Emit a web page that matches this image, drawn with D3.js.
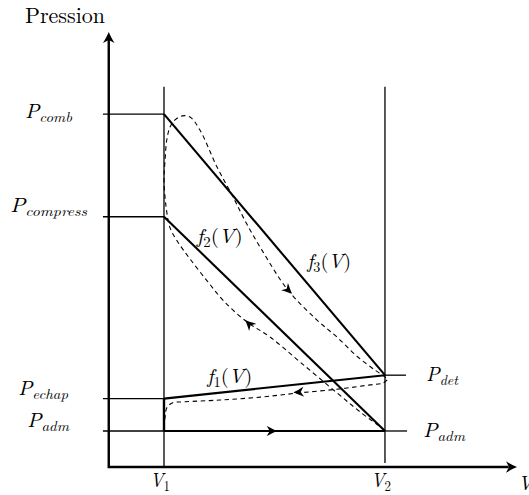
<!DOCTYPE html>
<html>
<head>
<meta charset="utf-8">
<script src="https://cdn.jsdelivr.net/npm/d3@7"></script>
<style>
html,body{margin:0;padding:0;background:#fff;}
svg{display:block;}
</style>
</head>
<body>
<svg id="chart" width="529" height="495"></svg>
<script>
// ---------- data ----------
const volumeNames = ["1", "2"];
const volumeValues = [1, 5];
const pressureNames = ["comb", "compress", "echap", "adm", "det"];
const pressureValues = [9.8, 6.95, 1.9, 1.0, 2.55];

// straight model curves f1, f2, f3
const modelNames = ["1", "2", "3"];
const modelStartV = [1, 1, 1];
const modelStartP = [1.9, 6.95, 9.8];
const modelEndV = [5, 5, 5];
const modelEndP = [2.55, 1.0, 2.55];

// real cycle (dashed): compression -> combustion -> expansion
const cycleMainV = [5.00,4.96,4.55,4.13,3.46,2.92,2.50,2.10,1.78,1.47,1.25,1.11,1.04,1.00,1.02,1.05,1.11,1.20,1.33,1.47,1.65,1.96,2.25,2.47,2.77,3.24,3.77,4.13,4.49,4.82,5.00,5.04];
const cycleMainP = [1.00,1.06,1.53,2.06,2.92,3.61,4.03,4.58,5.17,5.78,6.25,6.64,7.20,7.97,8.53,9.08,9.44,9.64,9.75,9.72,9.36,8.33,7.50,6.83,6.03,4.92,4.08,3.61,3.08,2.69,2.50,2.42];
// exhaust
const cycleExhV = [5.04,4.96,4.73,4.19,3.46,2.74,2.01,1.38,1.15,1.05,1.02,1.00];
const cycleExhP = [2.42,2.33,2.28,2.17,2.06,1.94,1.86,1.81,1.78,1.64,1.39,1.00];
// intake
const cycleIntV = [1.00, 5.00];
const cycleIntP = [1.00, 1.00];

// direction arrows on the cycle (tip and a point behind it)
const arrowTipV = [3.05, 3.34, 3.32, 2.47];
const arrowTipP = [1.00, 2.07, 4.81, 4.08];
const arrowFromV = [2.80, 3.60, 3.05, 2.74];
const arrowFromP = [1.00, 2.10, 5.20, 3.67];

const axisMaxV = 7.39;
const axisMaxP = 12.08;
const guideTopP = 10.56;

// ---------- drawing ----------
const FONT = "'Latin Modern Roman', 'Liberation Serif', serif";
const svg = d3.select("#chart");
const x = d3.scaleLinear().domain([0, axisMaxV]).range([108.75, 517]);
const y = d3.scaleLinear().domain([0, axisMaxP]).range([467, 32]);

const line = d3.line().x(d => x(d[0])).y(d => y(d[1]));
const smooth = d3.line().x(d => x(d[0])).y(d => y(d[1])).curve(d3.curveCatmullRom.alpha(0.5));
const zip = (a, b) => a.map((v, i) => [v, b[i]]);

// vertical guides at V1, V2
volumeValues.forEach((v, i) => {
  svg.append("line")
    .attr("x1", x(v)).attr("x2", x(v))
    .attr("y1", y(guideTopP)).attr("y2", i === 0 ? y(0) : y(0.11))
    .attr("stroke", "#000").attr("stroke-width", 1.3);
});

// pressure ticks
pressureNames.forEach((n, i) => {
  const p = pressureValues[i];
  if (n === "det") {
    svg.append("line").attr("x1", x(volumeValues[1])).attr("x2", x(5.38))
      .attr("y1", y(p)).attr("y2", y(p)).attr("stroke", "#000").attr("stroke-width", 1.3);
  } else {
    svg.append("line").attr("x1", x(-0.105)).attr("x2", x(volumeValues[0]))
      .attr("y1", y(p)).attr("y2", y(p)).attr("stroke", "#000").attr("stroke-width", 1.3);
    if (n === "adm") {
      svg.append("line").attr("x1", x(volumeValues[1])).attr("x2", x(5.4))
        .attr("y1", y(p)).attr("y2", y(p)).attr("stroke", "#000").attr("stroke-width", 1.3);
    }
  }
});

// thick model lines
modelNames.forEach((n, i) => {
  svg.append("path")
    .attr("d", line([[modelStartV[i], modelStartP[i]], [modelEndV[i], modelEndP[i]]]))
    .attr("fill", "none").attr("stroke", "#000").attr("stroke-width", 2.1);
});
// intake line and V1 step (thick)
svg.append("path").attr("d", line(zip(cycleIntV, cycleIntP)))
  .attr("fill", "none").attr("stroke", "#000").attr("stroke-width", 2.1);
svg.append("path").attr("d", line([[volumeValues[0], pressureValues[3]], [volumeValues[0], pressureValues[2]]]))
  .attr("fill", "none").attr("stroke", "#000").attr("stroke-width", 2.4);

// dashed real cycle
[[cycleMainV, cycleMainP], [cycleExhV, cycleExhP], [cycleIntV, cycleIntP]].forEach(([vs, ps]) => {
  svg.append("path").attr("d", smooth(zip(vs, ps)))
    .attr("fill", "none").attr("stroke", "#000").attr("stroke-width", 1.1)
    .attr("stroke-dasharray", "4.5,3.5");
});

// arrowheads
const headPath = "M0,0 C-3,-1.2 -7,-3.2 -10.5,-5 L-7.5,0 L-10.5,5 C-7,3.2 -3,1.2 0,0 Z";
arrowTipV.forEach((v, i) => {
  const tx = x(v), ty = y(arrowTipP[i]);
  const fx = x(arrowFromV[i]), fy = y(arrowFromP[i]);
  const ang = Math.atan2(ty - fy, tx - fx) * 180 / Math.PI;
  svg.append("path").attr("d", headPath).attr("fill", "#000")
    .attr("transform", `translate(${tx},${ty}) rotate(${ang})`);
});

// axes
svg.append("path").attr("d", line([[0, axisMaxP - 0.2], [0, 0], [axisMaxV - 0.15, 0]]))
  .attr("fill", "none").attr("stroke", "#000").attr("stroke-width", 2.4);
const axHead = "M0,0 C-3.5,-1.5 -8,-3.8 -11,-5.8 L-8,0 L-11,5.8 C-8,3.8 -3.5,1.5 0,0 Z";
svg.append("path").attr("d", axHead).attr("fill", "#000")
  .attr("transform", `translate(${x(axisMaxV)},${y(0)})`);
svg.append("path").attr("d", axHead).attr("fill", "#000")
  .attr("transform", `translate(${x(0)},${y(axisMaxP)}) rotate(-90)`);

// text helper
function label(px, py, segs, anchor, width, big = 20, small = 14) {
  const t = svg.append("text").attr("x", px).attr("y", py)
    .attr("text-anchor", anchor).attr("fill", "#000")
    .attr("font-family", FONT).style("font-family", FONT);
  let cur = 0;
  segs.forEach(([txt, kind]) => {
    const sub = kind[0] === "s";
    const target = sub ? 4 : 0;
    t.append("tspan").attr("dy", target - cur)
      .style("font-family", FONT)
      .style("font-size", (sub ? small : big) + "px")
      .style("font-style", kind.endsWith("i") ? "italic" : "normal")
      .text(txt);
    cur = target;
  });
  if (width) t.attr("textLength", width).attr("lengthAdjust", "spacingAndGlyphs");
  return t;
}

// axis titles
label(65, 23, [["Pression", "r"]], "middle", 80, 22);
label(518, 490, [["V", "i"]], "start", null, 20);

// volume labels
volumeNames.forEach((n, i) => {
  label(x(volumeValues[i]) - 4, 487, [["V", "i"], [n, "sr"]], "middle", 20);
});

// pressure labels
const leftLabel = {
  comb: {cx: 48.5, dy: 4, w: 47},
  compress: {cx: 48.5, dy: -5, w: 77},
  echap: {cx: 43, dy: -4, w: 50},
  adm: {cx: 48, dy: -4, w: 42}
};
pressureNames.forEach((n, i) => {
  const p = pressureValues[i];
  if (leftLabel[n]) {
    const L = leftLabel[n];
    label(L.cx, y(p) + L.dy, [["P", "i"], [n, "si"]], "middle", L.w);
  }
  if (n === "det" || n === "adm") {
    label(n === "det" ? 442 : 444, y(p) + 6, [["P", "i"], [n, "si"]], "middle", n === "det" ? 32 : 42);
  }
});

// model curve labels
const fLabelPos = {"1": [2.19, 2.33, 45], "2": [2.01, 6.22, 46], "3": [3.99, 5.53, 44]};
modelNames.forEach(n => {
  const [lv, lp, w] = fLabelPos[n];
  label(x(lv), y(lp), [["f", "i"], [n, "sr"], ["(", "r"], ["V", "i"], [")", "r"]], "middle", w);
});
</script>
</body>
</html>
